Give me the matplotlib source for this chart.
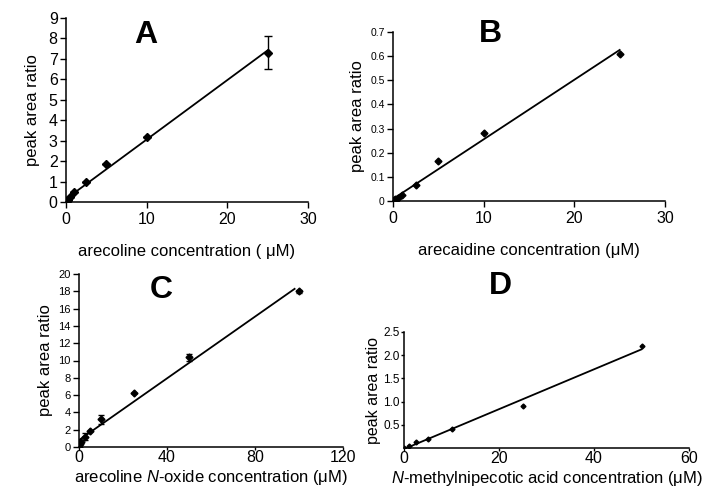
import matplotlib.pyplot as plt
import numpy as np

plt.rcParams["font.family"] = ["Liberation Sans", "DejaVu Sans"]
plt.rcParams["mathtext.fontset"] = "custom"
plt.rcParams["mathtext.it"] = "Liberation Sans:italic"
plt.rcParams["mathtext.rm"] = "Liberation Sans"

# A: arecoline
a_x = [0, 0.1, 0.25, 0.5, 1, 2.5, 5, 10, 25]
a_y = [0, 0.03, 0.1, 0.25, 0.5, 1.0, 1.85, 3.2, 7.3]
a_err = [0, 0, 0, 0, 0, 0, 0, 0, 0.8]

# B: arecaidine
b_x = [0, 0.1, 0.25, 0.5, 1, 2.5, 5, 10, 25]
b_y = [0, 0.003, 0.007, 0.013, 0.025, 0.068, 0.165, 0.28, 0.61]

# C: arecoline N-oxide
c_x = [0, 0.5, 1, 2.5, 5, 10, 25, 50, 100]
c_y = [0, 0.3, 0.6, 1.2, 1.9, 3.2, 6.2, 10.4, 18.0]
c_err = [0, 0, 0, 0.4, 0, 0.5, 0, 0.4, 0.2]

# D: N-methylnipecotic acid
d_x = [0, 1, 2.5, 5, 10, 25, 50]
d_y = [0, 0.04, 0.12, 0.2, 0.4, 0.9, 2.2]

fig = plt.figure(figsize=(7.04, 5.0), dpi=100)
W, H = 704, 500


def make_ax(l, r, t, b):
    return fig.add_axes([l / W, 1 - b / H, (r - l) / W, (b - t) / H])


def style(ax):
    ax.spines["top"].set_visible(False)
    ax.spines["right"].set_visible(False)
    ax.tick_params(direction="out", length=4, width=1, colors="black")
    for s in ax.spines.values():
        s.set_linewidth(1.1)


def fit_line(ax, x, y, x_end):
    k, c = np.polyfit(x, y, 1)
    xx = np.array([0, x_end])
    ax.plot(xx, k * xx + c, color="black", lw=1.3)


# Panel A
ax = make_ax(66, 308, 18, 202)
style(ax)
fit_line(ax, a_x, a_y, 25)
ax.errorbar(a_x, a_y, yerr=a_err, fmt="D", color="black", ms=4, capsize=3, elinewidth=1)
ax.set_xlim(0, 30)
ax.set_ylim(0, 9)
ax.set_xticks([0, 10, 20, 30])
ax.set_yticks(range(0, 10))
ax.tick_params(labelsize=11.5)
ax.tick_params(axis="y", pad=2)
ax.set_ylabel("peak area ratio", fontsize=12, labelpad=6)
ax.set_xlabel("arecoline concentration ( \u03bcM)", fontsize=12, labelpad=12)
ax.text(0.33, 0.91, "A", transform=ax.transAxes, fontsize=23, fontweight="bold", ha="center", va="center")

# Panel B
ax = make_ax(393, 665, 32, 201)
style(ax)
fit_line(ax, b_x, b_y, 25)
ax.plot(b_x, b_y, "D", color="black", ms=3.5)
ax.set_xlim(0, 30)
ax.set_ylim(0, 0.7)
ax.set_xticks([0, 10, 20, 30])
ax.set_yticks(np.arange(0, 0.71, 0.1))
ax.set_yticklabels(["0", "0.1", "0.2", "0.3", "0.4", "0.5", "0.6", "0.7"])
ax.tick_params(axis="x", labelsize=11.5)
ax.tick_params(axis="y", labelsize=7.5, pad=2)
ax.set_ylabel("peak area ratio", fontsize=12)
ax.set_xlabel("arecaidine concentration (\u03bcM)", fontsize=12, labelpad=12)
ax.text(0.36, 0.99, "B", transform=ax.transAxes, fontsize=23, fontweight="bold", ha="center", va="center")

# Panel C
ax = make_ax(79, 343, 274, 447)
style(ax)
fit_line(ax, c_x, c_y, 98)
ax.errorbar(c_x, c_y, yerr=c_err, fmt="D", color="black", ms=3.5, capsize=2.5, elinewidth=1)
ax.set_xlim(0, 120)
ax.set_ylim(0, 20)
ax.set_xticks([0, 40, 80, 120])
ax.set_yticks(range(0, 21, 2))
ax.tick_params(axis="x", labelsize=11.5, length=2, pad=0)
ax.tick_params(axis="y", labelsize=8, pad=2)
ax.set_ylabel("peak area ratio", fontsize=12)
ax.set_xlabel(r"arecoline $\it{N}$-oxide concentration (" + "\u03bcM)", fontsize=12, labelpad=2)
ax.text(0.31, 0.91, "C", transform=ax.transAxes, fontsize=23, fontweight="bold", ha="center", va="center")

# Panel D
ax = make_ax(404, 689, 332, 448)
style(ax)
fit_line(ax, d_x, d_y, 50)
ax.plot(d_x, d_y, "D", color="black", ms=2.5)
ax.set_xlim(0, 60)
ax.set_ylim(0, 2.5)
ax.set_xticks([0, 20, 40, 60])
ax.set_yticks([0.5, 1.0, 1.5, 2.0, 2.5])
ax.set_yticklabels(["0.5", "1.0", "1.5", "2.0", "2.5"])
ax.tick_params(axis="x", labelsize=11.5, length=2, pad=0)
ax.tick_params(axis="y", labelsize=8.5, length=2, pad=1)
ax.set_ylabel("peak area ratio", fontsize=11.5, labelpad=2)
ax.set_xlabel(r"$\it{N}$-methylnipecotic acid concentration (" + "\u03bcM)", fontsize=12, labelpad=2)
ax.text(0.34, 1.40, "D", transform=ax.transAxes, fontsize=23, fontweight="bold", ha="center", va="center")

fig.savefig("out.png", dpi=100)
